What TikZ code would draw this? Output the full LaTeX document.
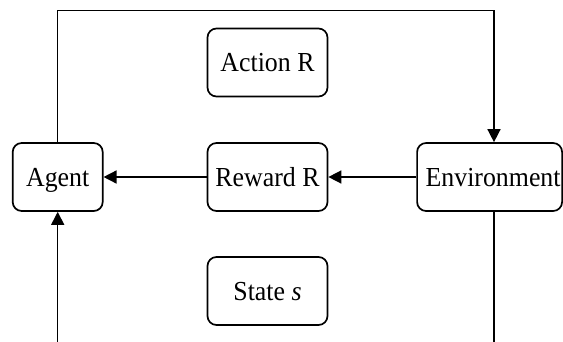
\documentclass[tikz,border=0pt]{standalone}
\usepackage{fontspec}
\setmainfont{Liberation Serif}[FakeStretch=0.94]
\usetikzlibrary{arrows.meta}
\begin{document}
\begin{tikzpicture}[x=1pt,y=-1pt,
  box/.style={draw, line width=1.7pt, rounded corners=9pt, minimum height=68pt,
    inner sep=0pt, text height=18pt, text depth=0pt,
    font=\fontsize{27.5}{30}\selectfont},
  conn/.style={line width=1.5pt, -{Triangle[length=13pt,width=13pt]}}]
\useasboundingbox (0,0) rectangle (563,341);
\clip (0,0) rectangle (563,341);
\fill[white] (0,0) rectangle (563,341);
% boxes
\node[box, minimum width=90pt]  (agent)  at (57.7,177) {Agent};
\node[box, minimum width=120pt] (reward) at (267.5,177) {Reward R};
\node[box, minimum width=145pt] (env)    at (489.6,177) {\hspace*{7pt}Environment};
\node[box, minimum width=120pt] (action) at (267.5,62.5) {Action R};
\node[box, minimum width=120pt] (state)  at (267.5,291) {State \textit{s}};
% loop corners
\coordinate (topR) at (494,10.5);
\coordinate (botR) at (494,380);
% agent -> environment over the top
\draw[conn] (agent.north) |- (topR) -- (topR |- env.north);
% environment -> reward -> agent
\draw[conn] (env.west) -- (reward.east);
\draw[conn] (reward.west) -- (agent.east);
% environment -> agent underneath
\draw[conn] (botR |- env.south) -- (botR) -| (agent.south);
\end{tikzpicture}
\end{document}
